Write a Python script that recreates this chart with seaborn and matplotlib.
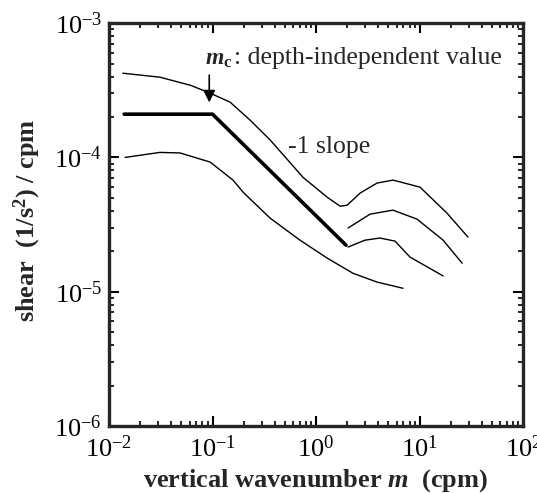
import matplotlib
matplotlib.use("Agg")
import matplotlib.pyplot as plt
from matplotlib.ticker import NullFormatter
import seaborn as sns

# upper envelope
upper_m = [0.0136, 0.031, 0.061, 0.095, 0.148, 0.23, 0.288, 0.36, 0.75, 1.28, 1.71, 2.0,
           2.66, 3.88, 5.54, 10.1, 18.4, 29.4]
upper_s = [4.24e-4, 3.96e-4, 3.45e-4, 3.01e-4, 2.58e-4, 1.90e-4, 1.60e-4, 1.35e-4, 7.1e-5, 5.06e-5,
           4.33e-5, 4.41e-5, 5.42e-5, 6.44e-5, 6.78e-5, 6.01e-5, 3.85e-5, 2.55e-5]

# middle hump (beyond the break)
mid_m = [2.04, 3.33, 5.54, 9.46, 16.9, 25.8]
mid_s = [2.98e-5, 3.78e-5, 4.05e-5, 3.47e-5, 2.42e-5, 1.63e-5]

# lower hump
low_m = [2.04, 2.97, 4.15, 5.8, 8.09, 16.9]
low_s = [2.15e-5, 2.42e-5, 2.51e-5, 2.38e-5, 1.81e-5, 1.31e-5]

# lower envelope
bottom_m = [0.0143, 0.031, 0.0485, 0.095, 0.158, 0.197, 0.36, 0.70, 1.28, 2.28, 3.88, 6.93]
bottom_s = [1.00e-4, 1.09e-4, 1.08e-4, 9.23e-5, 6.77e-5, 5.52e-5, 3.53e-5, 2.42e-5, 1.78e-5,
            1.37e-5, 1.18e-5, 1.06e-5]

# model: flat to m_c then roll-off
model_m = [0.014, 0.1, 1.95]
model_s = [2.1e-4, 2.1e-4, 2.22e-5]

sns.set_style("ticks")
plt.rcParams['font.family'] = ['Liberation Serif', 'DejaVu Serif']
plt.rcParams['mathtext.fontset'] = 'custom'
plt.rcParams['mathtext.rm'] = 'Liberation Serif'
plt.rcParams['mathtext.it'] = 'Liberation Serif:italic'
plt.rcParams['mathtext.bf'] = 'Liberation Serif:bold'
plt.rcParams['mathtext.bfit'] = 'Liberation Serif:italic:bold'

fig = plt.figure(figsize=(5.37, 4.93), dpi=100)
ax = fig.add_axes([0.203, 0.136, 0.771, 0.817])

for xs, ys in [(upper_m, upper_s), (mid_m, mid_s), (low_m, low_s), (bottom_m, bottom_s)]:
    sns.lineplot(x=xs, y=ys, ax=ax, color='black', linewidth=1.0)
sns.lineplot(x=model_m, y=model_s, ax=ax, color='black', linewidth=2.6)

ax.set_xscale('log')
ax.set_yscale('log')
ax.set_xlim(1e-2, 1e2)
ax.set_ylim(1e-6, 1e-3)
ax.xaxis.set_minor_formatter(NullFormatter())
ax.yaxis.set_minor_formatter(NullFormatter())

for sp in ax.spines.values():
    sp.set_linewidth(2.4)
ax.tick_params(which='both', direction='in', top=True, right=True, colors='black')
ax.tick_params(which='major', length=7, width=1.5, labelsize=19)
ax.tick_params(which='minor', length=3.5, width=1.2)
ax.tick_params(axis='y', which='major', pad=5)
ax.tick_params(axis='x', which='major', pad=7)

ax.set_xlabel(r'vertical wavenumber $\mathbfit{m}$  (cpm)', fontsize=19, fontweight='bold')
ax.set_ylabel(r'shear  (1/s$^\mathbf{2}$) / cpm', fontsize=19, fontweight='bold')
ax.xaxis.set_label_coords(0.5, -0.103)
ax.yaxis.set_label_coords(-0.16, 0.51)

ax.text(0.232, 0.898, r'$\mathbfit{m}_\mathbf{c}$', transform=ax.transAxes,
        fontsize=17, va='baseline', ha='left')
ax.text(0.302, 0.898, ': depth-independent value', transform=ax.transAxes,
        fontsize=18.5, va='baseline', ha='left')
ax.annotate('', xy=(0.093, 2.45e-4), xytext=(0.093, 4.3e-4),
            arrowprops=dict(arrowstyle='-|>', color='black', lw=1.2, mutation_scale=18))
ax.text(0.432, 0.677, '-1 slope', transform=ax.transAxes, fontsize=18.5,
        va='baseline', ha='left')

fig.savefig('out.png', dpi=100)
